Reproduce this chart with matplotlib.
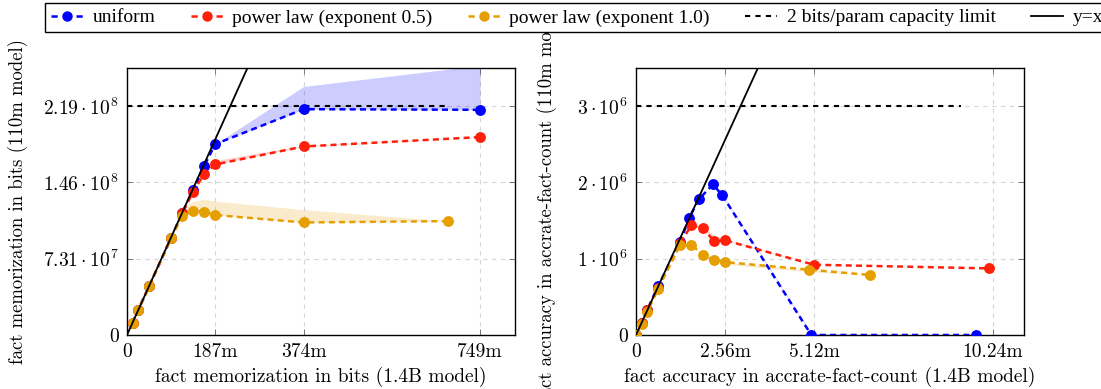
import matplotlib.pyplot as plt
import numpy as np
from matplotlib.lines import Line2D

plt.rcParams['font.family'] = 'cmr10'
plt.rcParams['mathtext.fontset'] = 'cm'
plt.rcParams['axes.formatter.use_mathtext'] = True

M = 1e6

# left panel: fact memorization in bits
mem_x = np.array([11.7, 23.4, 46.8, 93.6, 117.0, 140.4, 163.8, 187.25, 374.5, 749.0]) * M
mem_uniform = np.array([11.5, 23.6, 46.5, 92.8, 116.7, 139.0, 161.9, 182.7, 216.1, 215.5]) * M
mem_pow05 = np.array([11.5, 23.6, 46.5, 92.8, 116.5, 137.1, 154.3, 163.2, 180.4, 189.4]) * M
mem_x_pow10 = np.array([11.7, 23.4, 46.8, 93.6, 117.0, 140.4, 163.8, 187.25, 374.5, 681.7]) * M
mem_pow10 = np.array([11.5, 23.6, 46.5, 92.8, 113.5, 118.9, 117.9, 114.8, 107.7, 109.0]) * M

# spread over runs (upper edge of shaded band)
mem_uniform_hi = np.array([11.5, 23.6, 46.5, 92.8, 116.7, 139.0, 161.9, 182.7, 237.8, 258.0]) * M
mem_pow05_hi = np.array([11.5, 23.6, 46.5, 92.8, 116.5, 137.1, 158.0, 167.0, 181.5, 189.4]) * M
mem_pow10_hi = np.array([11.5, 23.6, 46.5, 92.8, 123.0, 128.0, 130.0, 128.0, 120.0, 109.0]) * M

mem_capacity = 2.19e8
mem_capacity_end = 681.7 * M
mem_xticks = [0, 187.25 * M, 374.5 * M, 749 * M]
mem_xticklabels = ['0', '187m', '374m', '749m']
mem_yticks = [0, 7.31e7, 1.46e8, 2.19e8]
mem_yticklabels = ['0', r'$7.31\cdot10^{7}$', r'$1.46\cdot10^{8}$', r'$2.19\cdot10^{8}$']

# right panel: fact accuracy
acc_x_uniform = np.array([0, 0.163, 0.325, 0.632, 1.263, 1.522, 1.799, 2.211, 2.479, 5.034, 9.752]) * M
acc_uniform = np.array([0, 0.157, 0.332, 0.638, 1.214, 1.528, 1.777, 1.974, 1.830, 0.0, 0.0]) * M
acc_uniform_hi = np.array([0, 0.157, 0.332, 0.638, 1.214, 1.528, 1.777, 1.974, 1.850, 0.02, 0.0]) * M
acc_x_pow05 = np.array([0, 0.163, 0.325, 0.632, 1.263, 1.589, 1.924, 2.249, 2.565, 5.110, 10.135]) * M
acc_pow05 = np.array([0, 0.157, 0.330, 0.620, 1.200, 1.437, 1.397, 1.227, 1.240, 0.921, 0.873]) * M
acc_pow05_hi = np.array([0, 0.157, 0.330, 0.620, 1.200, 1.437, 1.430, 1.300, 1.260, 0.921, 0.873]) * M
acc_x_pow10 = np.array([0, 0.163, 0.325, 0.632, 1.263, 1.589, 1.924, 2.230, 2.546, 4.976, 6.728]) * M
acc_pow10 = np.array([0, 0.148, 0.301, 0.603, 1.175, 1.183, 1.052, 0.987, 0.956, 0.856, 0.786]) * M
acc_pow10_lo = np.array([0, 0.148, 0.301, 0.603, 1.175, 1.183, 1.030, 0.960, 0.925, 0.830, 0.786]) * M

acc_capacity = 3e6
acc_capacity_end = 9.33 * M
acc_xticks = [0, 2.56 * M, 5.12 * M, 10.24 * M]
acc_xticklabels = ['0', '2.56m', '5.12m', '10.24m']
acc_yticks = [0, 1e6, 2e6, 3e6]
acc_yticklabels = ['0', r'$1\cdot10^{6}$', r'$2\cdot10^{6}$', r'$3\cdot10^{6}$']

BLUE = '#0000ff'
RED = '#ff200a'
ORANGE = '#e69f00'

fig = plt.figure(figsize=(11.01, 3.89), dpi=100)
ax1 = fig.add_axes([127 / 1101, 54 / 389, 388 / 1101, 267 / 389])
ax2 = fig.add_axes([636 / 1101, 54 / 389, 388 / 1101, 267 / 389])

line_kw = dict(ls=(0, (2.4, 1.7)), lw=1.8, marker='o', ms=6.8, zorder=4)
cap_kw = dict(color='black', ls=(0, (2.5, 2.5)), lw=1.5, zorder=3)


def style(ax, xticks, xlabels, yticks, ylabels, xmax, ymax):
    ax.set_xlim(0, xmax)
    ax.set_ylim(0, ymax)
    ax.set_xticks(xticks)
    ax.set_xticklabels(xlabels)
    ax.set_yticks(yticks)
    ax.set_yticklabels(ylabels)
    ax.grid(True, color='#d6d6d6', ls=(0, (4, 4)), lw=0.8)
    ax.set_axisbelow(True)
    ax.tick_params(direction='in', top=True, right=True, length=4, width=0.6,
                   color='#666666', labelsize=14, pad=6)
    for s in ax.spines.values():
        s.set_linewidth(1.0)
        s.set_color('black')


# left: memorization
ax = ax1
ax.fill_between(mem_x, mem_uniform, mem_uniform_hi, color=BLUE, alpha=0.2, lw=0, zorder=2)
ax.fill_between(mem_x, mem_pow05, mem_pow05_hi, color=RED, alpha=0.2, lw=0, zorder=2)
ax.fill_between(mem_x_pow10, mem_pow10, mem_pow10_hi, color=ORANGE, alpha=0.2, lw=0, zorder=2)
ax.plot([0, mem_capacity_end], [mem_capacity, mem_capacity], **cap_kw)
ax.plot([0, 3e8], [0, 3e8], color='black', lw=1.3, zorder=5)
ax.plot(mem_x, mem_uniform, color=BLUE, **line_kw)
ax.plot(mem_x, mem_pow05, color=RED, **line_kw)
ax.plot(mem_x_pow10, mem_pow10, color=ORANGE, **line_kw)
style(ax, mem_xticks, mem_xticklabels, mem_yticks, mem_yticklabels, 823 * M, 2.555e8)
ax.set_xlabel('fact memorization in bits (1.4B model)', fontsize=14)
ax.set_ylabel('fact memorization in bits (110m model)', fontsize=13.5)
ax.xaxis.set_label_coords(0.5, -0.12)
ax.yaxis.set_label_coords(-0.255, 0.5)

# right: accuracy
ax = ax2
ax.fill_between(acc_x_uniform, acc_uniform, acc_uniform_hi, color=BLUE, alpha=0.2, lw=0, zorder=2)
ax.fill_between(acc_x_pow05, acc_pow05, acc_pow05_hi, color=RED, alpha=0.2, lw=0, zorder=2)
ax.fill_between(acc_x_pow10, acc_pow10_lo, acc_pow10, color=ORANGE, alpha=0.2, lw=0, zorder=2)
ax.plot([0, acc_capacity_end], [acc_capacity, acc_capacity], **cap_kw)
ax.plot([0, 4e6], [0, 4e6], color='black', lw=1.3, zorder=5)
ax.plot(acc_x_uniform, acc_uniform, color=BLUE, **line_kw)
ax.plot(acc_x_pow05, acc_pow05, color=RED, **line_kw)
ax.plot(acc_x_pow10, acc_pow10, color=ORANGE, **line_kw)
style(ax, acc_xticks, acc_xticklabels, acc_yticks, acc_yticklabels, 11.14 * M, 3.5e6)
ax.set_xlabel('fact accuracy in accrate-fact-count (1.4B model)', fontsize=14)
ax.set_ylabel('fact accuracy in accrate-fact-count (110m model)', fontsize=13.5)
ax.xaxis.set_label_coords(0.5, -0.12)
ax.yaxis.set_label_coords(-0.203, 0.5)

leg_kw = dict(ls=(0, (2.5, 2.5)), lw=1.8, marker='o', ms=6.5)
handles = [
    Line2D([], [], color=BLUE, **leg_kw),
    Line2D([], [], color=RED, **leg_kw),
    Line2D([], [], color=ORANGE, **leg_kw),
    Line2D([], [], color='black', ls=(0, (2.5, 2.5)), lw=1.5),
    Line2D([], [], color='black', lw=1.3),
]
labels = ['uniform', 'power law (exponent 0.5)', 'power law (exponent 1.0)',
          '2 bits/param capacity limit', 'y=x']
leg = fig.legend(handles, labels, loc='upper left', bbox_to_anchor=(45 / 1101, 1 - 3 / 389),
                 borderaxespad=0, ncol=5, frameon=True, fancybox=False, edgecolor='black',
                 framealpha=1, prop={'family': 'Liberation Serif', 'size': 14.0},
                 handlelength=1.65, handletextpad=0.5, columnspacing=1.8,
                 borderpad=0.3)
leg.get_frame().set_linewidth(1.0)

fig.savefig('out.png', dpi=100)
